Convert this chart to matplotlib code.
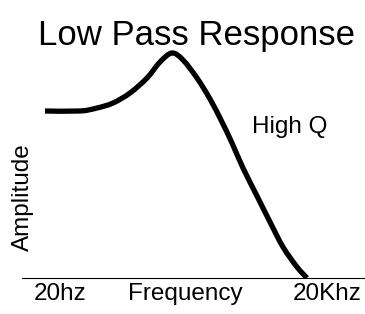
import matplotlib
matplotlib.use("Agg")
import matplotlib.pyplot as plt
from matplotlib.path import Path
from matplotlib.patches import PathPatch

plt.rcParams['font.family'] = ['Liberation Sans', 'DejaVu Sans']

# response curve (arbitrary frequency / amplitude units)
freq = [23, 58, 75, 91, 108, 125, 138, 150, 161, 175, 188, 200, 210, 221, 235, 248, 261, 275, 285]
amp = [167, 167, 170, 175, 185, 200, 216, 225, 218, 200, 179, 156, 135, 110, 82, 56, 31, 11, 0]

title = "Low Pass Response"
x_labels = ["20hz", "Frequency", "20Khz"]
y_label = "Amplitude"
curve_label = "High Q"


def smooth_path(xs, ys):
	# catmull-rom through the read points, handed to matplotlib as bezier segments
	pts = list(zip(xs, ys))
	verts = [pts[0]]
	codes = [Path.MOVETO]
	n = len(pts)
	for i in range(n - 1):
		p0 = pts[i - 1] if i > 0 else pts[i]
		p1 = pts[i]
		p2 = pts[i + 1]
		p3 = pts[i + 2] if i + 2 < n else pts[i + 1]
		c1 = (p1[0] + (p2[0] - p0[0]) / 6, p1[1] + (p2[1] - p0[1]) / 6)
		c2 = (p2[0] - (p3[0] - p1[0]) / 6, p2[1] - (p3[1] - p1[1]) / 6)
		verts += [c1, c2, p2]
		codes += [Path.CURVE4] * 3
	return Path(verts, codes)


def main():
	fig = plt.figure(figsize=(3.65, 3.14), dpi=100)
	ax = fig.add_axes([22 / 365, 36 / 314, 343 / 365, 278 / 314])
	ax.add_patch(PathPatch(smooth_path(freq, amp), facecolor="none", edgecolor="black",
						   linewidth=3.8, capstyle="butt", joinstyle="round"))
	ax.set_xlim(0, 343)
	ax.set_ylim(0, 278)
	for side in ["top", "left", "right"]:
		ax.spines[side].set_visible(False)
	ax.spines["bottom"].set_linewidth(0.8)
	ax.set_xticks([])
	ax.set_yticks([])
	ax.patch.set_alpha(0)

	fig.text(197 / 365, 1 - 45 / 314, title, fontsize=25, ha="center", va="baseline")
	for lbl, xc in zip(x_labels, [60, 185, 327]):
		fig.text(xc / 365, 1 - 300 / 314, lbl, fontsize=17.5, ha="center", va="baseline")
	fig.text(23 / 365, 1 - 197 / 314, y_label, fontsize=17.5, rotation=90,
			 ha="center", va="center")
	fig.text(290 / 365, 1 - 133 / 314, curve_label, fontsize=17.5, ha="center", va="baseline")

	fig.savefig("out.png", dpi=100)


if __name__ == "__main__":
	main()
